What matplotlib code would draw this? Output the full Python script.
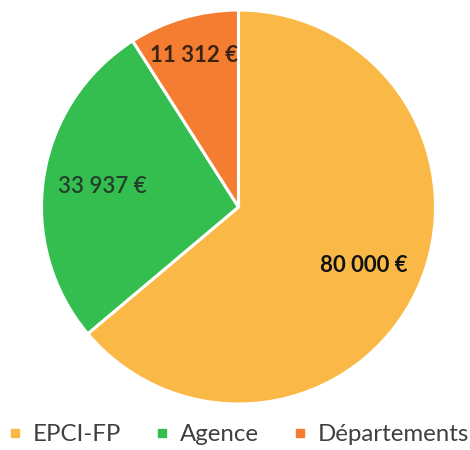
import numpy as np
import matplotlib
matplotlib.use("Agg")
import matplotlib.pyplot as plt

# Data
categories = ["EPCI-FP", "Agence", "Départements"]
values = [80000, 33937, 11312]
value_labels = ["80 000 €", "33 937 €", "11 312 €"]
colors = ["#FAB946", "#34BE50", "#F57D32"]
label_colors = ["#111111", "#23402a", "#3a2412"]
label_weights = ["bold", "semibold", "bold"]
label_radius = [0.70, 0.70, 0.80]

plt.rcParams['font.family'] = ['Lato', 'DejaVu Sans']

fig = plt.figure(figsize=(4.7, 4.5), dpi=100)
W, H = 470, 450
cx, cy, r = 238.5, 207, 197
ax = fig.add_axes([(cx - r) / W, (H - cy - r) / H, 2 * r / W, 2 * r / H])

wedges, _ = ax.pie(values, colors=colors, startangle=90, counterclock=False,
                   radius=1, wedgeprops=dict(edgecolor="white", linewidth=2.2))

# value labels inside the slices
for w, txt, c, fw, rr in zip(wedges, value_labels, label_colors, label_weights, label_radius):
    mid = np.deg2rad((w.theta1 + w.theta2) / 2)
    ax.text(rr * np.cos(mid), rr * np.sin(mid), txt, ha="center", va="center",
            fontsize=16, color=c, fontweight=fw)

ax.set_xlim(-1, 1)
ax.set_ylim(-1, 1)
ax.set_aspect("equal")
ax.axis("off")

handles = [plt.Line2D([], [], marker="s", linestyle="none", markersize=6,
                      markerfacecolor=c, markeredgecolor=c) for c in colors]
fig.legend(handles, categories, loc="lower left", bbox_to_anchor=(-0.03, -0.037),
           ncol=3, frameon=False, fontsize=17.3, handlelength=0.6,
           handletextpad=0.45, columnspacing=1.4, labelcolor="#404040")

fig.savefig("out.png", dpi=100, facecolor="white")
